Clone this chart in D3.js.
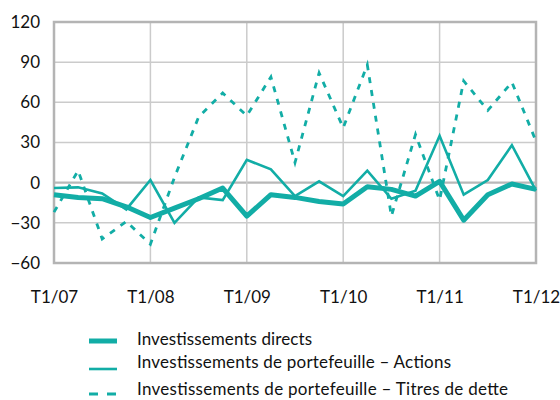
<!DOCTYPE html>
<html>
<head>
<meta charset="utf-8">
<script src="https://cdn.jsdelivr.net/npm/d3@7"></script>
<style>
  html, body { margin: 0; padding: 0; background: #ffffff; }
  svg { display: block; }
  text { font-family: "Lato", "Open Sans", sans-serif; fill: #111; }
</style>
</head>
<body>
<svg id="chart" width="560" height="400"></svg>
<script>
// Quarterly periods, T1/07 .. T1/12
const quarters = d3.range(21);
const xTickIndex = [0, 4, 8, 12, 16, 20];
const xTickLabels = ["T1/07", "T1/08", "T1/09", "T1/10", "T1/11", "T1/12"];
const yTicks = [-60, -30, 0, 30, 60, 90, 120];

const seriesNames = [
  "Investissements directs",
  "Investissements de portefeuille \u2013 Actions",
  "Investissements de portefeuille \u2013 Titres de dette"
];
const directs = [-9, -11, -12, -18, -26, -19, -12, -4, -25, -9, -11, -14, -16, -3, -5, -10, 1, -28, -9, -1, -5];
const actions = [-4, -3.5, -8, -20, 2, -30, -11, -13, 17, 10, -10, 1, -10, 9, -12, -6, 35, -9, 2, 28, -6];
const titres  = [-22, 9, -42, -29, -46, 4, 49, 67, 50, 79, 15, 82, 41, 88, -25, 36, -13, 76, 54, 75, 31];

const color = "#12ADA6";
const svg = d3.select("#chart");
const pLeft = 54, pRight = 536, pTop = 22, pBottom = 263;

const x = d3.scaleLinear().domain([0, 20]).range([pLeft, pRight]);
const y = d3.scaleLinear().domain([-60, 120]).range([pBottom, pTop]);

// grid
const grid = svg.append("g");
grid.selectAll("line.h").data(yTicks).join("line")
  .attr("x1", pLeft).attr("x2", pRight)
  .attr("y1", d => y(d)).attr("y2", d => y(d))
  .attr("stroke", d => d === 0 ? "#b8b8b8" : "#cbcbcb")
  .attr("stroke-width", d => d === 0 ? 2.2 : 1.5);
grid.selectAll("line.v").data(xTickIndex).join("line")
  .attr("y1", pTop).attr("y2", pBottom)
  .attr("x1", d => x(d)).attr("x2", d => x(d))
  .attr("stroke", "#cbcbcb").attr("stroke-width", 1.5);
// frame
svg.append("rect").attr("x", pLeft).attr("y", pTop)
  .attr("width", pRight - pLeft).attr("height", pBottom - pTop)
  .attr("fill", "none").attr("stroke", "#b4b4b4").attr("stroke-width", 2.5);

// axes (labels only)
const yAxis = d3.axisLeft(y).tickValues(yTicks).tickSize(0).tickPadding(14)
  .tickFormat(d3.format("d"));
const gy = svg.append("g").attr("transform", `translate(${pLeft},0)`).call(yAxis);
gy.select(".domain").remove();
gy.selectAll("text").style("font-size", "17px").style("font-family", "Lato").attr("fill", "#111");

const xAxis = d3.axisBottom(x).tickValues(xTickIndex).tickSize(0).tickPadding(28)
  .tickFormat((d, i) => xTickLabels[i]);
const gx = svg.append("g").attr("transform", `translate(0,${pBottom})`).call(xAxis);
gx.select(".domain").remove();
gx.selectAll("text").style("font-size", "17px").style("font-family", "Lato").attr("fill", "#111");

const line = d3.line().x((d, i) => x(quarters[i])).y(d => y(d));

svg.append("path").datum(titres).attr("d", line)
  .attr("fill", "none").attr("stroke", color).attr("stroke-width", 2.8)
  .attr("stroke-dasharray", "6,7");
svg.append("path").datum(actions).attr("d", line)
  .attr("fill", "none").attr("stroke", color).attr("stroke-width", 2.6)
  .attr("stroke-linejoin", "miter");
svg.append("path").datum(directs).attr("d", line)
  .attr("fill", "none").attr("stroke", color).attr("stroke-width", 5)
  .attr("stroke-linejoin", "round");

// legend
const legend = [
  { name: seriesNames[0], w: 5, dash: null, ly: 341, ty: 345, len: 175 },
  { name: seriesNames[1], w: 2.6, dash: null, ly: 369, ty: 368, len: 314 },
  { name: seriesNames[2], w: 2.8, dash: "9,9", ly: 394, ty: 395, len: 371 }
];
const lg = svg.append("g");
legend.forEach(l => {
  lg.append("line").attr("x1", 89).attr("x2", 117).attr("y1", l.ly).attr("y2", l.ly)
    .attr("stroke", color).attr("stroke-width", l.w)
    .attr("stroke-dasharray", l.dash);
  lg.append("text").attr("x", 137).attr("y", l.ty).text(l.name)
    .attr("textLength", l.len).attr("lengthAdjust", "spacing")
    .style("font-size", "17px");
});
</script>
</body>
</html>
